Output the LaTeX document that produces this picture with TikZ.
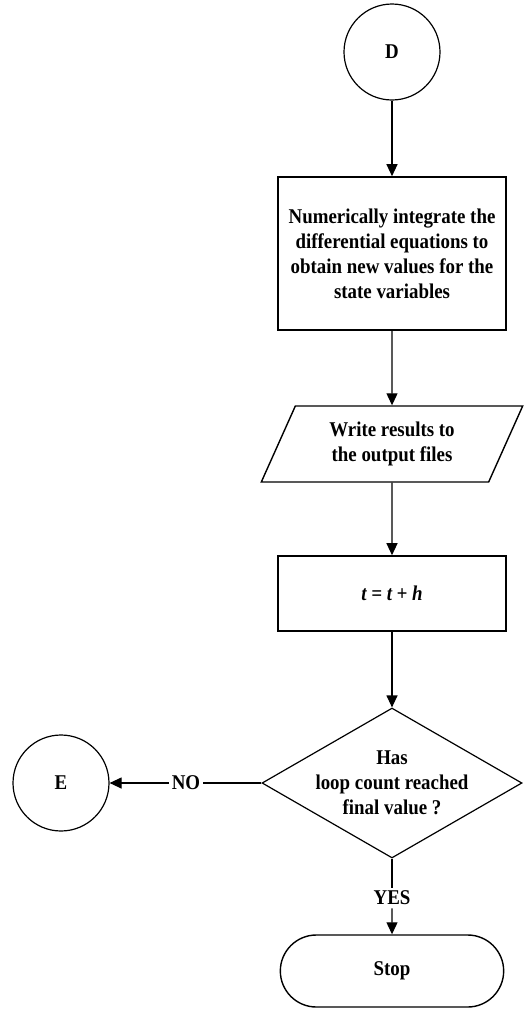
\documentclass[tikz,border=0pt]{standalone}
\usepackage{fontspec}
\setmainfont{Liberation Serif}[FakeStretch=0.9]
\usepackage{tikz}
\usetikzlibrary{shapes.geometric}
\usetikzlibrary{shapes.misc}
\usetikzlibrary {arrows.meta}

\begin{document}
\begin{tikzpicture}[
x=1pt, y=-1pt,
every node/.style={
    font=\fontsize{21}{25}\selectfont\bfseries,
    align=center
},
flow/.style={line width=1.2pt},
arrow/.style={flow, -{Triangle[length=12pt,width=11pt]}},
connector/.style={circle, draw, line width=1.2pt, minimum size=96pt, inner sep=0pt},
process/.style={rectangle, draw, line width=1.6pt, minimum width=228pt, inner sep=0pt},
io/.style={
    trapezium, trapezium left angle=63.4, trapezium right angle=116.6,
    trapezium stretches=true, draw, line width=1.4pt,
    minimum width=262pt, minimum height=76pt, inner sep=0pt
},
decision/.style={diamond, draw, line width=1.2pt, minimum width=260pt, minimum height=150pt, inner sep=0pt},
terminal/.style={rounded rectangle, draw, line width=1.4pt, minimum width=230pt, minimum height=72pt},
answer/.style={inner sep=3pt}
]

\useasboundingbox (0,0) rectangle (523,1010);

\node[connector] (D) at (392,52) {D};
\node[process, minimum height=153pt] (integrate) at (392,253.5)
    {Numerically integrate the\\differential equations to\\obtain new values for the\\state variables};
\node[io] (write) at (392,444) {Write results to\\the output files};
\node[process, minimum height=75pt] (advance) at (392,593.5) {\itshape t = t + h};
\node[decision] (check) at (392,783) {};
\node (question) at (check) {Has\\loop count reached\\final value ?};
\node[connector] (E) at (61,783) {E};
\node[answer] (no) at (186,783) {NO};
\node[answer] (yes) at (392,898) {YES};
\node[terminal] (stop) at (392,971) {Stop};

\draw[arrow] (D) -- (integrate);
\draw[arrow] (integrate) -- (write);
\draw[arrow] (write) -- (advance);
\draw[arrow] (advance) -- (check);
\draw[flow] (check) -- (no);
\draw[arrow] (no) -- (E);
\draw[flow] (check) -- (yes);
\draw[arrow] (yes) -- (stop);
\end{tikzpicture}
\end{document}
